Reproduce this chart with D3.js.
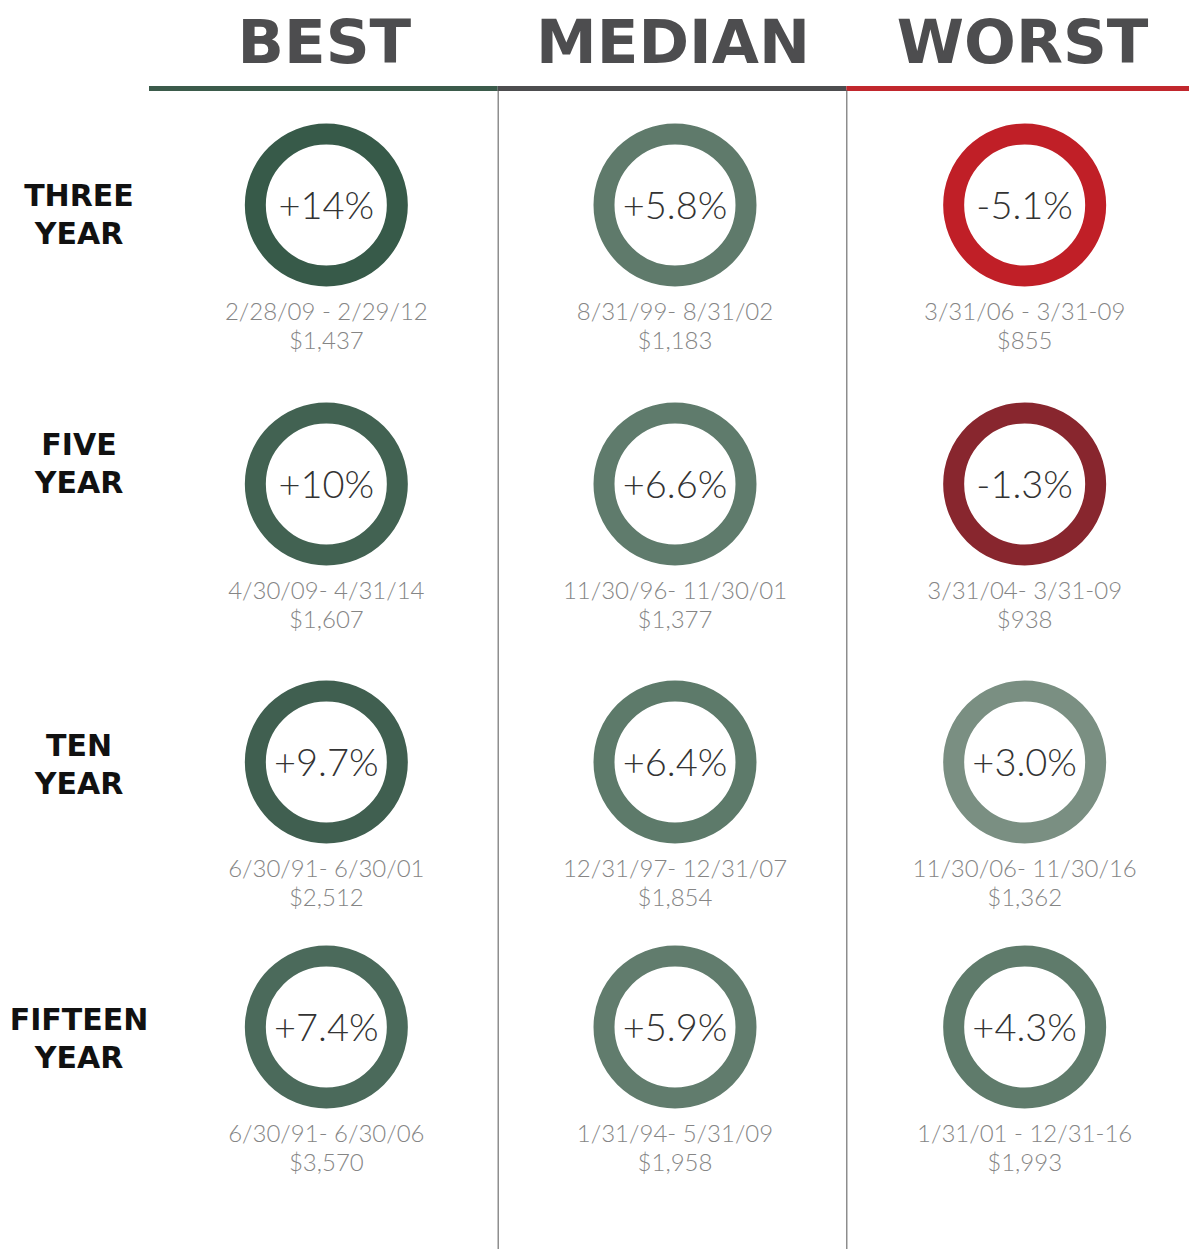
<!DOCTYPE html>
<html>
<head>
<meta charset="utf-8">
<script src="https://cdn.jsdelivr.net/npm/d3@7"></script>
<style>
  html, body { margin: 0; padding: 0; background: #fff; }
  svg { display: block; }
</style>
</head>
<body>
<div id="chart"></div>
<script>
// Columns and rows
const columns = ['BEST', 'MEDIAN', 'WORST'];
const periods = ['THREE YEAR', 'FIVE YEAR', 'TEN YEAR', 'FIFTEEN YEAR'];

// Annualized returns, one array per column (rows in period order)
const bestReturns = ['+14%', '+10%', '+9.7%', '+7.4%'];
const medianReturns = ['+5.8%', '+6.6%', '+6.4%', '+5.9%'];
const worstReturns = ['-5.1%', '-1.3%', '+3.0%', '+4.3%'];

// Date ranges
const bestDates = ['2/28/09 - 2/29/12', '4/30/09- 4/31/14', '6/30/91- 6/30/01', '6/30/91- 6/30/06'];
const medianDates = ['8/31/99- 8/31/02', '11/30/96- 11/30/01', '12/31/97- 12/31/07', '1/31/94- 5/31/09'];
const worstDates = ['3/31/06 - 3/31-09', '3/31/04- 3/31-09', '11/30/06- 11/30/16', '1/31/01 - 12/31-16'];

// Ending value of $1,000
const bestValues = ['$1,437', '$1,607', '$2,512', '$3,570'];
const medianValues = ['$1,183', '$1,377', '$1,854', '$1,958'];
const worstValues = ['$855', '$938', '$1,362', '$1,993'];

// Ring colours per cell (styles kept apart from the data)
const ringColors = {
  BEST: ['#375a49', '#426252', '#405f50', '#4b6a5b'],
  MEDIAN: ['#5f7a6b', '#5f7b6c', '#5d7a6a', '#617c6d'],
  WORST: ['#c01f27', '#88262e', '#7a8f82', '#5f7b6b']
};
const headerColors = { BEST: '#3b5b4b', MEDIAN: '#4d4d4f', WORST: '#c1272d' };

const width = 1189;
const height = 1249;

const svg = d3.select('#chart')
  .append('svg')
  .attr('width', width)
  .attr('height', height);

// Scales
const x = d3.scaleBand()
  .domain(columns)
  .range([149, 1195]);

const y = d3.scaleOrdinal()
  .domain(periods)
  .range([205, 484, 762, 1027]);

// label centres are not on the ring centres in the original
const labelY = d3.scaleOrdinal()
  .domain(periods)
  .range([213, 462, 763, 1037]);

const ringOffset = 3;
const cx = c => x(c) + x.bandwidth() / 2 + ringOffset + (c === 'WORST' ? 1 : 0);

// Build cells
const returnsBy = { BEST: bestReturns, MEDIAN: medianReturns, WORST: worstReturns };
const datesBy = { BEST: bestDates, MEDIAN: medianDates, WORST: worstDates };
const valuesBy = { BEST: bestValues, MEDIAN: medianValues, WORST: worstValues };

const cells = [];
columns.forEach(col => {
  periods.forEach((p, i) => {
    cells.push({
      col, period: p,
      ret: returnsBy[col][i],
      dates: datesBy[col][i],
      value: valuesBy[col][i],
      color: ringColors[col][i]
    });
  });
});

// Header titles
svg.selectAll('.col-title')
  .data(columns)
  .enter().append('text')
  .attr('class', 'col-title')
  .attr('x', d => cx(d) - 2)
  .attr('y', 63)
  .attr('text-anchor', 'middle')
  .style('font-family', '"DejaVu Sans", sans-serif')
  .style('font-weight', 'bold')
  .style('font-size', '61px')
  .style('fill', '#4d4d4f')
  .text(d => d);

// Header bars
svg.selectAll('.col-bar')
  .data(columns)
  .enter().append('rect')
  .attr('class', 'col-bar')
  .attr('x', d => x(d))
  .attr('y', 86)
  .attr('width', x.bandwidth())
  .attr('height', 5)
  .style('fill', d => headerColors[d]);

// Vertical separators
svg.selectAll('.sep')
  .data(columns.slice(1))
  .enter().append('line')
  .attr('class', 'sep')
  .attr('x1', d => x(d) + 0.5)
  .attr('x2', d => x(d) + 0.5)
  .attr('y1', 90)
  .attr('y2', height)
  .style('stroke', '#555')
  .style('stroke-width', 1);

// Row labels
const labels = svg.selectAll('.row-label')
  .data(periods)
  .enter().append('text')
  .attr('class', 'row-label')
  .attr('text-anchor', 'middle')
  .style('font-family', '"DejaVu Sans", sans-serif')
  .style('font-weight', 'bold')
  .style('font-size', '30px')
  .style('fill', '#111');

labels.append('tspan')
  .attr('x', 79)
  .attr('y', d => labelY(d) - 7)
  .text(d => d.split(' ')[0]);

labels.append('tspan')
  .attr('x', 79)
  .attr('y', d => labelY(d) + 31)
  .text(d => d.split(' ')[1]);

// Rings
const ringR = 71;
const cell = svg.selectAll('.cell')
  .data(cells)
  .enter().append('g')
  .attr('class', 'cell')
  .attr('transform', d => `translate(${cx(d.col)},${y(d.period)})`);

cell.append('circle')
  .attr('r', ringR)
  .style('fill', 'none')
  .style('stroke', d => d.color)
  .style('stroke-width', 21);

cell.append('text')
  .attr('text-anchor', 'middle')
  .attr('y', 14)
  .style('font-family', 'Lato, "Open Sans", sans-serif')
  .style('font-weight', 300)
  .style('font-size', '38px')
  .style('fill', '#333')
  .text(d => d.ret);

cell.append('text')
  .attr('text-anchor', 'middle')
  .attr('y', 115)
  .style('font-family', 'Lato, "Open Sans", sans-serif')
  .style('font-weight', 300)
  .style('font-size', '24px')
  .style('fill', '#858585')
  .text(d => d.dates);

cell.append('text')
  .attr('text-anchor', 'middle')
  .attr('y', 144)
  .style('font-family', 'Lato, "Open Sans", sans-serif')
  .style('font-weight', 300)
  .style('font-size', '24px')
  .style('fill', '#858585')
  .text(d => d.value);
</script>
</body>
</html>
